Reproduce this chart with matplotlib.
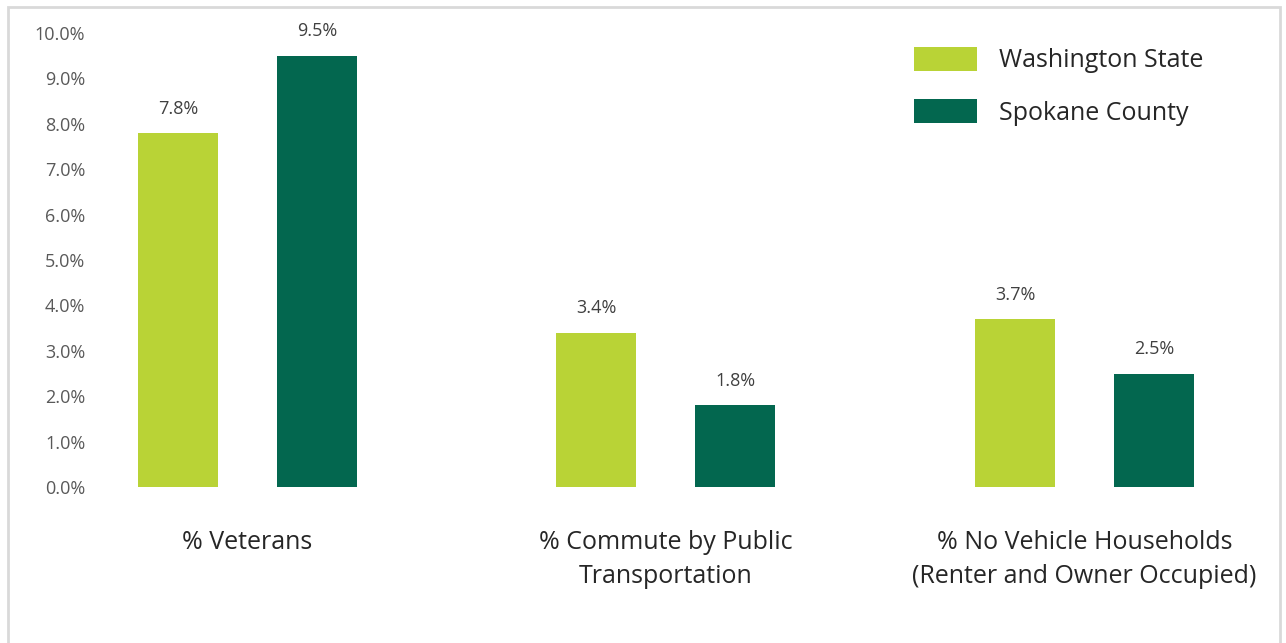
import matplotlib.pyplot as plt
import numpy as np

plt.rcParams["font.family"] = ["Open Sans", "DejaVu Sans"]

categories = ["% Veterans", "% Commute by Public\nTransportation",
              "% No Vehicle Households\n(Renter and Owner Occupied)"]
washington = [7.8, 3.4, 3.7]
spokane = [9.5, 1.8, 2.5]
series_names = ["Washington State", "Spokane County"]
colors = ["#B9D336", "#03674F"]

fig = plt.figure(figsize=(12.86, 6.43), dpi=100)
# plot area placed in pixel terms of the original
W, H = 1286, 643
ax = fig.add_axes([95 / W, (H - 487) / H, (W - 95) / W, 454 / H])

x = np.arange(len(categories))
bw = 80 / 418.5
off = (59 / 2 + 40) / 418.5

b1 = ax.bar(x - off, washington, bw, color=colors[0], label=series_names[0])
b2 = ax.bar(x + off, spokane, bw, color=colors[1], label=series_names[1])

for bars in (b1, b2):
    ax.bar_label(bars, labels=[f"{v:.1f}%" for v in bars.datavalues],
                 padding=11, fontsize=13, color="#404040")

ax.set_ylim(0, 10)
ax.set_xlim(-0.3644, 2.4815)
ax.set_yticks(np.arange(0, 11, 1))
ax.set_yticklabels([f"{v:.1f}%" for v in range(11)])
ax.tick_params(axis="y", length=0, pad=7, labelsize=13, labelcolor="#595959")
ax.set_xticks(x)
ax.set_xticklabels(categories, fontsize=18, color="#262626", linespacing=1.45)
ax.tick_params(axis="x", length=0, pad=31)

for s in ax.spines.values():
    s.set_visible(False)

leg = ax.legend(loc="upper left", bbox_to_anchor=(891 / W, 1 - 24 / H),
                bbox_transform=fig.transFigure, frameon=False, fontsize=18,
                handlelength=2.52, handleheight=1.1, handletextpad=0.9,
                labelspacing=1.05)
for t in leg.get_texts():
    t.set_color("#262626")

border = plt.Rectangle((8 / W, -0.02), (1280 - 8) / W, 1.02 - 7 / H,
                       transform=fig.transFigure, fill=False,
                       edgecolor="#D9D9D9", linewidth=2)
fig.add_artist(border)

plt.savefig("out.png", dpi=100)
